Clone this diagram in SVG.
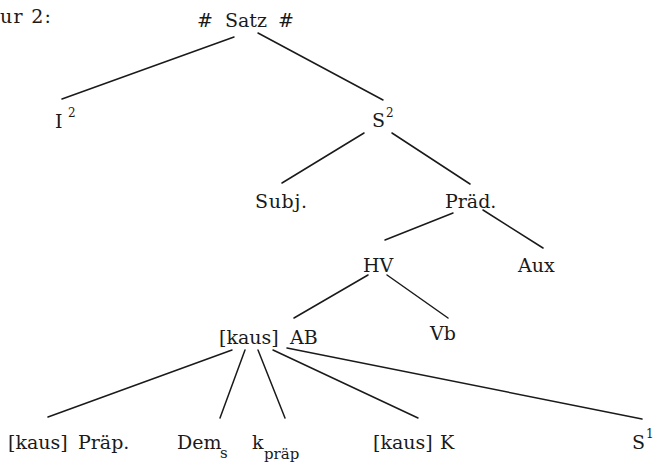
<svg xmlns="http://www.w3.org/2000/svg" width="659" height="468" viewBox="0 0 659 468">
<style>
text{font-family:"DejaVu Serif","Liberation Serif",serif;font-size:19px;fill:#1a1a1a}
.sub{font-size:15px}
.sup{font-size:12px}
line{stroke:#1a1a1a;stroke-width:1.5;stroke-linecap:round}
</style>
<rect width="659" height="468" fill="#fff"/>
<text x="0" y="23" textLength="51" lengthAdjust="spacing">ur 2:</text>
<g id="satz"><text y="27"><tspan x="197">#</tspan><tspan x="225">Satz</tspan><tspan x="278">#</tspan></text></g>
<g id="i2"><text x="55" y="128">I</text><text class="sup" x="68" y="117">2</text></g>
<g id="s2"><text x="372" y="127">S</text><text class="sup" x="386" y="117">2</text></g>
<g id="subj"><text x="255" y="208" textLength="52" lengthAdjust="spacing">Subj.</text></g>
<g id="praed"><text x="445" y="208">Präd.</text></g>
<g id="hv"><text x="363" y="272">HV</text></g>
<g id="aux"><text x="518" y="272">Aux</text></g>
<g id="ab"><text y="344"><tspan x="219">[kaus]</tspan><tspan x="290">AB</tspan></text></g>
<g id="vb"><text x="430" y="340">Vb</text></g>
<g id="praep"><text y="449"><tspan x="8">[kaus]</tspan><tspan x="78">Präp.</tspan></text></g>
<g id="dem"><text x="177" y="449">Dem</text><text class="sub" x="220" y="458">s</text></g>
<g id="kpraep"><text x="252" y="449">k</text><text class="sub" x="264" y="459">präp</text></g>
<g id="k"><text y="449"><tspan x="373">[kaus]</tspan><tspan x="440">K</tspan></text></g>
<g id="s1"><text x="632" y="449">S</text><text class="sup" x="646" y="438">1</text></g>
<g id="edges">
<line x1="234" y1="37" x2="62" y2="99"/>
<line x1="258" y1="33" x2="383" y2="100"/>
<line x1="364" y1="133" x2="282" y2="183"/>
<line x1="392" y1="133" x2="470" y2="184"/>
<line x1="453" y1="213" x2="385" y2="240"/>
<line x1="483" y1="210" x2="543" y2="248"/>
<line x1="368" y1="275" x2="294" y2="318"/>
<line x1="387" y1="275" x2="448" y2="318"/>
<line x1="232" y1="350" x2="48" y2="417"/>
<line x1="245" y1="350" x2="220" y2="418"/>
<line x1="258" y1="350" x2="285" y2="418"/>
<line x1="273" y1="350" x2="418" y2="418"/>
<line x1="287" y1="348" x2="642" y2="419"/>
</g>
</svg>
